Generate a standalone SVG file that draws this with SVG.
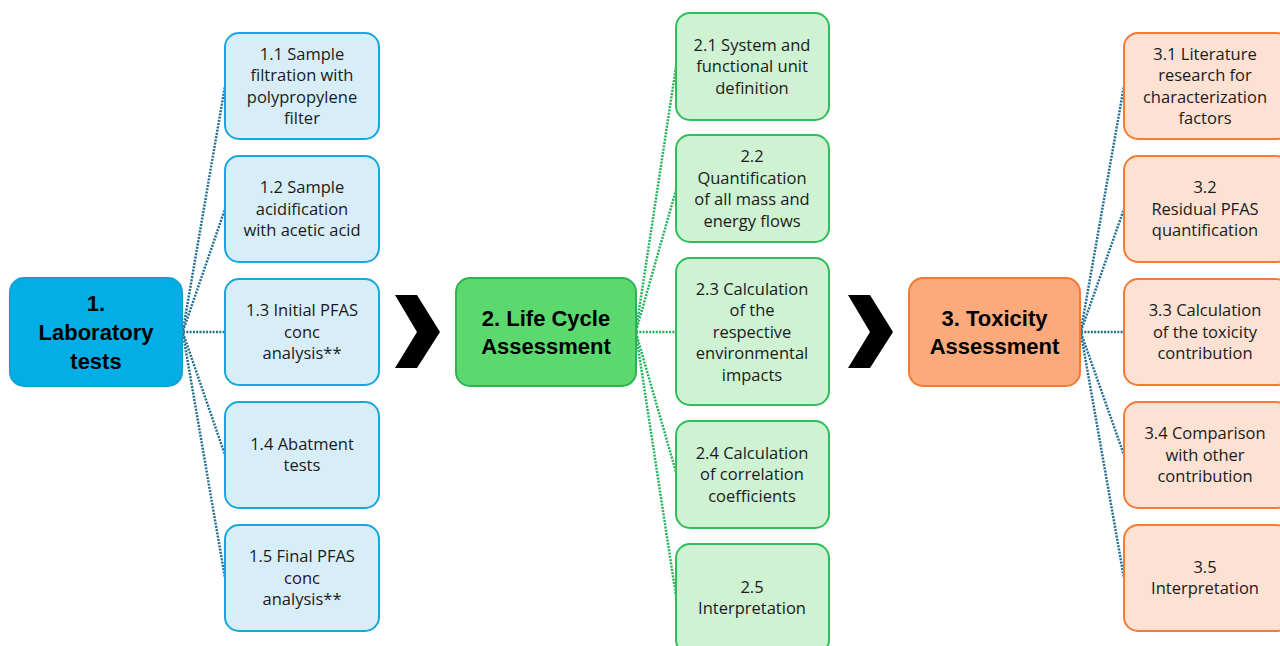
<svg xmlns="http://www.w3.org/2000/svg" width="1280" height="646" viewBox="0 0 1280 646">
<style>
.sub{font-family:"Open Sans","Noto Sans",sans-serif;font-size:16.5px;fill:#1a1a1a;text-anchor:middle}
.main{font-family:"Liberation Sans",Arial,sans-serif;font-size:22px;font-weight:bold;fill:#000;text-anchor:middle}
.b1{fill:#d7eef9;stroke:#17a7dc;stroke-width:2}
.b2{fill:#cff2d3;stroke:#2fbf5a;stroke-width:2}
.b3{fill:#fde1d3;stroke:#f47a36;stroke-width:2}
.c1{stroke:#236f92;stroke-width:2.5;stroke-dasharray:2 1.3;fill:none}
.c2{stroke:#22b35a;stroke-width:2.5;stroke-dasharray:2 1.3;fill:none}
.chev{fill:#000}
</style>
<rect width="1280" height="646" fill="#ffffff"/>
<g id="connectors">
<path class="c1" d="M183,330 L225,86 M183,331 L225,209 M183,332 L225,332 M183,333 L225,455 M183,334 L225,578"/>
<path class="c2" d="M636,330 L676,67 M636,331 L676,190 M636,332 L676,332 M636,333 L676,472 M636,334 L676,596"/>
<path class="c1" d="M1081,330 L1124,86 M1081,331 L1124,209 M1081,332 L1124,332 M1081,333 L1124,455 M1081,334 L1124,578"/>
</g>
<g id="chevron1"><path class="chev" d="M395,295 L417,295 L440,332 L417,368 L395,368 L417,332 Z"/></g>
<g id="chevron2"><path class="chev" d="M848,295 L870,295 L893,332 L870,368 L848,368 L870,332 Z"/></g>
<g id="n1"><rect x="10" y="278" width="172" height="108" rx="14" fill="#03aee6" stroke="#139fd2" stroke-width="2"/>
<text class="main"><tspan x="96" y="311">1.</tspan><tspan x="96" y="340">Laboratory</tspan><tspan x="96" y="369">tests</tspan></text></g>
<g id="n1_1"><rect class="b1" x="225" y="33" width="154" height="106" rx="14"/>
<text class="sub"><tspan x="302" y="59.5">1.1 Sample</tspan><tspan x="302" y="81">filtration with</tspan><tspan x="302" y="102.5">polypropylene</tspan><tspan x="302" y="124">filter</tspan></text></g>
<g id="n1_2"><rect class="b1" x="225" y="156" width="154" height="106" rx="14"/>
<text class="sub"><tspan x="302" y="193">1.2 Sample</tspan><tspan x="302" y="214.5">acidification</tspan><tspan x="302" y="236">with acetic acid</tspan></text></g>
<g id="n1_3"><rect class="b1" x="225" y="279" width="154" height="106" rx="14"/>
<text class="sub"><tspan x="302" y="316">1.3 Initial PFAS</tspan><tspan x="302" y="337.5">conc</tspan><tspan x="302" y="359">analysis**</tspan></text></g>
<g id="n1_4"><rect class="b1" x="225" y="402" width="154" height="106" rx="14"/>
<text class="sub"><tspan x="302" y="449.5">1.4 Abatment</tspan><tspan x="302" y="471">tests</tspan></text></g>
<g id="n1_5"><rect class="b1" x="225" y="525" width="154" height="106" rx="14"/>
<text class="sub"><tspan x="302" y="562">1.5 Final PFAS</tspan><tspan x="302" y="583.5">conc</tspan><tspan x="302" y="605">analysis**</tspan></text></g>
<g id="n2"><rect x="456" y="278" width="180" height="108" rx="14" fill="#5bd96e" stroke="#2db352" stroke-width="2"/>
<text class="main"><tspan x="546" y="326">2. Life Cycle</tspan><tspan x="546" y="354">Assessment</tspan></text></g>
<g id="n2_1"><rect class="b2" x="676" y="13" width="153" height="107" rx="14"/>
<text class="sub"><tspan x="752" y="50.5">2.1 System and</tspan><tspan x="752" y="72">functional unit</tspan><tspan x="752" y="93.5">definition</tspan></text></g>
<g id="n2_2"><rect class="b2" x="676" y="135" width="153" height="107" rx="14"/>
<text class="sub"><tspan x="752" y="162">2.2</tspan><tspan x="752" y="183.5">Quantification</tspan><tspan x="752" y="205">of all mass and</tspan><tspan x="752" y="226.5">energy flows</tspan></text></g>
<g id="n2_3"><rect class="b2" x="676" y="258" width="153" height="147" rx="14"/>
<text class="sub"><tspan x="752" y="294.5">2.3 Calculation</tspan><tspan x="752" y="316">of the</tspan><tspan x="752" y="337.5">respective</tspan><tspan x="752" y="359">environmental</tspan><tspan x="752" y="380.5">impacts</tspan></text></g>
<g id="n2_4"><rect class="b2" x="676" y="421" width="153" height="107" rx="14"/>
<text class="sub"><tspan x="752" y="458.5">2.4 Calculation</tspan><tspan x="752" y="480">of correlation</tspan><tspan x="752" y="501.5">coefficients</tspan></text></g>
<g id="n2_5"><rect class="b2" x="676" y="544" width="153" height="110" rx="14"/>
<text class="sub"><tspan x="752" y="592.5">2.5</tspan><tspan x="752" y="614">Interpretation</tspan></text></g>
<g id="n3"><rect x="909" y="278" width="171" height="108" rx="14" fill="#fca97c" stroke="#f37a34" stroke-width="2"/>
<text class="main"><tspan x="994.5" y="326">3. Toxicity</tspan><tspan x="994.5" y="354">Assessment</tspan></text></g>
<g id="n3_1"><rect class="b3" x="1124" y="33" width="166" height="106" rx="14"/>
<text class="sub"><tspan x="1205" y="59.5">3.1 Literature</tspan><tspan x="1205" y="81">research for</tspan><tspan x="1205" y="102.5">characterization</tspan><tspan x="1205" y="124">factors</tspan></text></g>
<g id="n3_2"><rect class="b3" x="1124" y="156" width="166" height="106" rx="14"/>
<text class="sub"><tspan x="1205" y="193">3.2</tspan><tspan x="1205" y="214.5">Residual PFAS</tspan><tspan x="1205" y="236">quantification</tspan></text></g>
<g id="n3_3"><rect class="b3" x="1124" y="279" width="166" height="106" rx="14"/>
<text class="sub"><tspan x="1205" y="316">3.3 Calculation</tspan><tspan x="1205" y="337.5">of the toxicity</tspan><tspan x="1205" y="359">contribution</tspan></text></g>
<g id="n3_4"><rect class="b3" x="1124" y="402" width="166" height="106" rx="14"/>
<text class="sub"><tspan x="1205" y="439">3.4 Comparison</tspan><tspan x="1205" y="460.5">with other</tspan><tspan x="1205" y="482">contribution</tspan></text></g>
<g id="n3_5"><rect class="b3" x="1124" y="525" width="166" height="106" rx="14"/>
<text class="sub"><tspan x="1205" y="572.5">3.5</tspan><tspan x="1205" y="594">Interpretation</tspan></text></g>
</svg>
